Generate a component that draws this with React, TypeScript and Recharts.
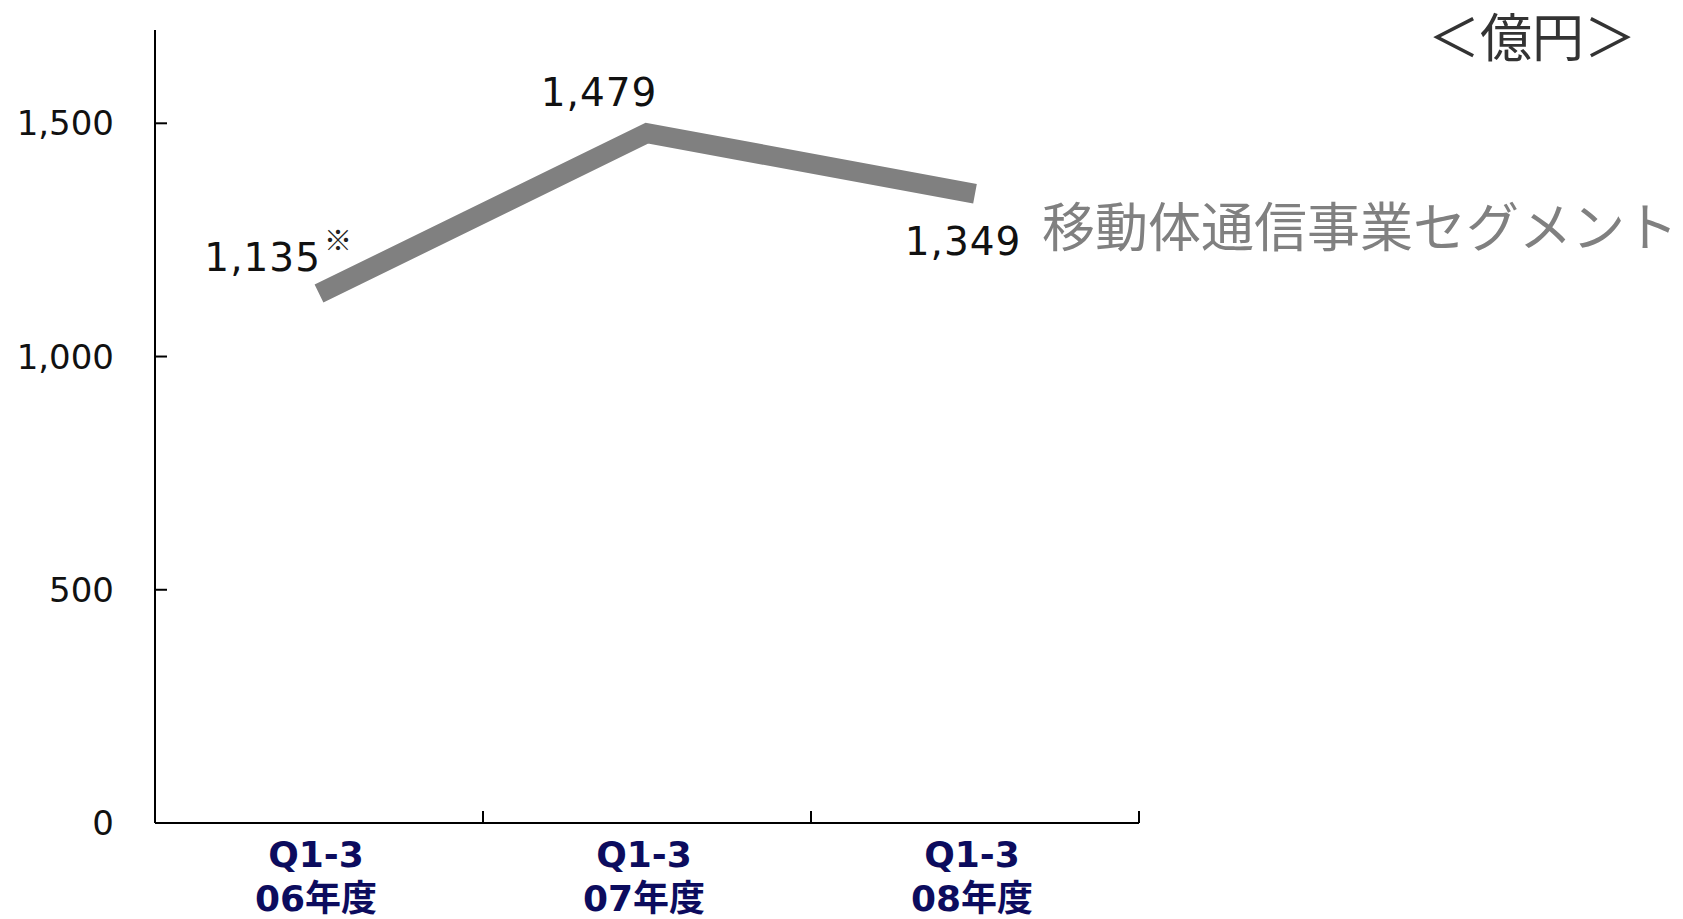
import React from 'react';
import { ComposedChart, Line, XAxis, YAxis, LabelList } from 'recharts';

// ---- data ----
const periodLabel = 'Q1-3';
const fiscalYears = ['06年度', '07年度', '08年度'];
const revenue = [1135, 1479, 1349];
const yTicks = [0, 500, 1000, 1500];
const yDomain: [number, number] = [0, 1700];
const seriesName = '移動体通信事業セグメント';
const unitLabel = '＜億円＞';
const noteMark = '※';
const notedIndex = 0;

const data = fiscalYears.map((year, i) => ({ year, value: revenue[i] }));

// ---- styles ----
const LATIN = '"DejaVu Sans", "Noto Sans CJK JP", sans-serif';
const CJK = '"Noto Sans CJK JP", sans-serif';
const LABEL_OFFSETS = [
  { dx: 2, dy: -23, anchor: 'end' },
  { dx: -48, dy: -27, anchor: 'middle' },
  { dx: -12, dy: 61, anchor: 'middle' },
];
const TICK_LEN = 12;

const fmt = (v: number) => v.toLocaleString('en-US');

const CategoryTick = (props: any) => {
  const { x, y, payload } = props;
  const half = payload && typeof payload.offset === 'number' ? payload.offset : null;
  return (
    <g>
      {half !== null && half > 0 && (
        <line x1={x + half} x2={x + half} y1={y} y2={y - TICK_LEN} stroke="#000" strokeWidth={2} />
      )}
      <text x={x - 3} y={y + 44} textAnchor="middle" fill="#0c0c5e" fontSize={36} fontWeight={700} fontFamily={LATIN}>
        {periodLabel}
      </text>
      <text x={x - 3} y={y + 88} textAnchor="middle" fill="#0c0c5e" fontSize={36} fontWeight={700} fontFamily={LATIN}>
        {payload.value}
      </text>
    </g>
  );
};

const PointLabel = (props: any) => {
  const { x, y, value, index } = props;
  const o = LABEL_OFFSETS[index] || { dx: 0, dy: -20, anchor: 'middle' };
  const isLast = index === revenue.length - 1;
  return (
    <g>
      <text x={x + o.dx} y={y + o.dy} textAnchor={o.anchor} fill="#111" fontSize={39} letterSpacing={1} fontFamily={LATIN}>
        {fmt(value)}
      </text>
      {index === notedIndex && (
        <text x={x + o.dx + 3} y={y + o.dy - 20} textAnchor="start" fill="#222" fontSize={28} fontFamily={CJK}>
          {noteMark}
        </text>
      )}
      {isLast && (
        <text x={x + 67} y={y + 53} textAnchor="start" fill="#808080" fontSize={53} fontFamily={CJK}>
          {seriesName}
        </text>
      )}
    </g>
  );
};

export default function App() {
  return (
    <div style={{ position: 'absolute', left: 0, top: 0, width: 1683, height: 919, background: '#fff' }}>
      <ComposedChart
        width={1683}
        height={919}
        data={data}
        margin={{ top: 30, right: 544, bottom: 0, left: 0 }}
      >
        <XAxis
          dataKey="year"
          scale="band"
          height={96}
          axisLine={{ stroke: '#000', strokeWidth: 2 }}
          tickLine={false}
          tickSize={0}
          tickMargin={0}
          tick={<CategoryTick />}
          interval={0}
        />
        <YAxis
          width={155}
          domain={yDomain}
          ticks={yTicks}
          tickFormatter={fmt}
          axisLine={{ stroke: '#000', strokeWidth: 2 }}
          tickLine={{ stroke: '#000', strokeWidth: 2 }}
          tickSize={-TICK_LEN}
          tickMargin={53}
          tick={{ fill: '#111', fontSize: 34, fontFamily: LATIN }}
        />
        <Line
          dataKey="value"
          stroke="#808080"
          strokeWidth={20}
          strokeLinejoin="miter"
          strokeLinecap="butt"
          dot={false}
          activeDot={false}
          isAnimationActive={false}
        >
          <LabelList dataKey="value" content={<PointLabel />} />
        </Line>
      </ComposedChart>
      <div
        style={{
          position: 'absolute',
          left: 1428,
          top: 9,
          fontFamily: CJK,
          fontSize: 52,
          lineHeight: 1,
          color: '#333',
          whiteSpace: 'nowrap',
        }}
      >
        {unitLabel}
      </div>
    </div>
  );
}
